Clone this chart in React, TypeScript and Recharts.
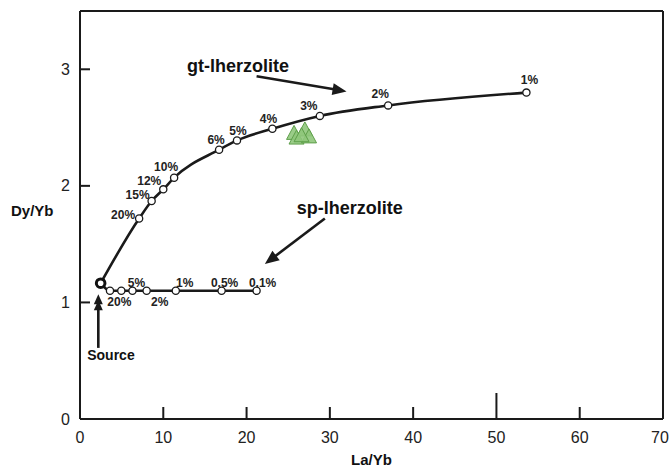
import React from 'react';
import {
  ComposedChart,
  Line,
  Scatter,
  XAxis,
  YAxis,
  ReferenceLine,
  ReferenceDot,
  LabelList,
} from 'recharts';

const FONT = '"Liberation Sans", Arial, Helvetica, sans-serif';
const INK = '#1a1a1a';

// axis ticks
const xTicks = [0, 10, 20, 30, 40, 50, 60, 70];
const yTicks = [0, 1, 2, 3];

// source composition
const sourceLaYb = 2.48;
const sourceDyYb = 1.165;

// garnet lherzolite melting curve
const gtLabels = ['20%', '15%', '12%', '10%', '6%', '5%', '4%', '3%', '2%', '1%'];
const gtLaYb = [7.1, 8.6, 10.0, 11.3, 16.7, 18.85, 23.1, 28.8, 37.0, 53.6];
const gtDyYb = [1.72, 1.87, 1.97, 2.07, 2.31, 2.39, 2.49, 2.6, 2.69, 2.8];

// spinel lherzolite melting curve
const spLabels = ['', '20%', '5%', '2%', '1%', '0.5%', '0.1%'];
const spLaYb = [3.6, 4.96, 6.3, 8.0, 11.5, 17.0, 21.2];
const spDyYb = [1.1, 1.1, 1.1, 1.1, 1.1, 1.1, 1.1];

// samples (green triangles)
const sampleLaYb = [25.7, 27.0, 26.0, 27.5, 26.6];
const sampleDyYb = [2.45, 2.48, 2.41, 2.42, 2.43];

// label offsets in px, relative to each point
const gtLabelOffset: Record<string, [number, number]> = {
  '20%': [-16, -4],
  '15%': [-14, -6],
  '12%': [-14, -9],
  '10%': [-8, -11],
  '6%': [-3, -10],
  '5%': [1, -10],
  '4%': [-4, -10],
  '3%': [-11, -10],
  '2%': [-8, -12],
  '1%': [3, -13],
};
const spLabelOffset: Record<string, [number, number]> = {
  '20%': [-2, 11],
  '5%': [4, -8],
  '2%': [13, 11],
  '1%': [9, -8],
  '0.5%': [3, -8],
  '0.1%': [6, -8],
};

const source = [{ x: sourceLaYb, y: sourceDyYb }];
const gtData = [
  { x: sourceLaYb, y: sourceDyYb, label: '' },
  ...gtLaYb.map((x, i) => ({ x, y: gtDyYb[i], label: gtLabels[i] })),
];
const spData = [
  { x: sourceLaYb, y: sourceDyYb, label: '' },
  ...spLaYb.map((x, i) => ({ x, y: spDyYb[i], label: spLabels[i] })),
];
const samples = sampleLaYb.map((x, i) => ({ x, y: sampleDyYb[i] }));

const XTick = (p: any) => {
  const v = p.payload.value;
  const axisY = p.y - 18;
  const len = v === 50 ? 26 : 12;
  // last label sits at the right edge of the page
  const tx = v === 70 ? p.x - 3 : p.x;
  return (
    <g>
      {v !== 0 && v !== 70 && (
        <line x1={p.x} x2={p.x} y1={axisY} y2={axisY - len} stroke={INK} strokeWidth={2} />
      )}
      <text x={tx} y={p.y} dy="0.35em" textAnchor="middle" fontSize={16} fontFamily={FONT} fill="#222">
        {v}
      </text>
    </g>
  );
};

const YTick = (p: any) => {
  const v = p.payload.value;
  const axisX = p.x + 10;
  return (
    <g>
      {v !== 0 && <line x1={axisX} x2={axisX + 10} y1={p.y} y2={p.y} stroke={INK} strokeWidth={2} />}
      <text x={p.x} y={p.y} dy="0.35em" textAnchor="end" fontSize={16} fontFamily={FONT} fill="#222">
        {v}
      </text>
    </g>
  );
};

const pointDot = (p: any) => {
  if (p.index === 0) return <g key={`d${p.index}`} />;
  return <circle key={`d${p.index}`} cx={p.cx} cy={p.cy} r={3.6} fill="#fff" stroke={INK} strokeWidth={1.3} />;
};

const pctLabel = (offsets: Record<string, [number, number]>) => (p: any) => {
  const off = offsets[p.value];
  if (!off) return null;
  return (
    <text
      x={p.x + off[0]}
      y={p.y + off[1]}
      dy="0.35em"
      textAnchor="middle"
      fontSize={12}
      fontWeight={700}
      fontFamily={FONT}
      fill="#222"
    >
      {p.value}
    </text>
  );
};

const arrowShape = (heads: number, headLen: number, headW: number) => (p: any) => {
  const { x1, y1, x2, y2 } = p;
  const ang = Math.atan2(y2 - y1, x2 - x1);
  const ux = Math.cos(ang);
  const uy = Math.sin(ang);
  const polys = [];
  for (let k = 0; k < heads; k++) {
    const tx = x2 - ux * k * headLen * 0.6;
    const ty = y2 - uy * k * headLen * 0.6;
    const bx = tx - ux * headLen;
    const by = ty - uy * headLen;
    polys.push(
      <polygon
        key={k}
        points={`${tx},${ty} ${bx - uy * headW},${by + ux * headW} ${bx + uy * headW},${by - ux * headW}`}
        fill={INK}
      />
    );
  }
  return (
    <g>
      <line x1={x1} y1={y1} x2={x2 - ux * headLen * 0.8} y2={y2 - uy * headLen * 0.8} stroke={INK} strokeWidth={2.6} />
      {polys}
    </g>
  );
};

const triangle = (p: any) => (
  <polygon
    points={`${p.cx},${p.cy - 8} ${p.cx - 7.5},${p.cy + 6} ${p.cx + 7.5},${p.cy + 6}`}
    fill="#8fc77b"
    fillOpacity={0.9}
    stroke="#5e9f4a"
    strokeWidth={1}
  />
);

const sourceDot = (p: any) => (
  <circle cx={p.cx} cy={p.cy} r={4.3} fill="#fff" stroke="#111" strokeWidth={3} />
);

const annotation = (value: string, size: number) => ({
  value,
  position: 'center' as const,
  fontSize: size,
  fontWeight: 700,
  fontFamily: FONT,
  fill: '#111',
});

export default function App() {
  return (
    <div style={{ position: 'absolute', left: 0, top: 0, width: 670, height: 467, background: '#fff' }}>
      <ComposedChart width={670} height={467} margin={{ top: 11, right: 7, bottom: 0, left: 0 }}>
        <XAxis
          type="number"
          dataKey="x"
          domain={[0, 70]}
          ticks={xTicks}
          interval={0}
          allowDataOverflow
          height={48}
          tickSize={0}
          tickMargin={18}
          tick={XTick}
          axisLine={{ stroke: INK, strokeWidth: 2 }}
          label={{ value: 'La/Yb', position: 'insideBottom', offset: 2, fontSize: 15, fontWeight: 700, fontFamily: FONT, fill: '#111' }}
        />
        <YAxis
          type="number"
          dataKey="y"
          domain={[0, 3.5]}
          ticks={yTicks}
          interval={0}
          allowDataOverflow
          width={80}
          tickSize={0}
          tickMargin={10}
          tick={YTick}
          axisLine={{ stroke: INK, strokeWidth: 2 }}
          label={{ value: 'Dy/Yb', position: 'insideLeft', offset: 11, dy: -4, fontSize: 15, fontWeight: 700, fontFamily: FONT, fill: '#111' }}
        />
        <ReferenceLine y={3.5} stroke={INK} strokeWidth={2} />
        <ReferenceLine x={70} stroke={INK} strokeWidth={2} />

        <Scatter data={samples} shape={triangle} isAnimationActive={false} />

        <Line
          data={gtData}
          dataKey="y"
          type="monotone"
          stroke={INK}
          strokeWidth={2.6}
          dot={pointDot}
          activeDot={false}
          isAnimationActive={false}
        >
          <LabelList dataKey="label" content={pctLabel(gtLabelOffset)} />
        </Line>
        <Line
          data={spData}
          dataKey="y"
          type="monotone"
          stroke={INK}
          strokeWidth={2.6}
          dot={pointDot}
          activeDot={false}
          isAnimationActive={false}
        >
          <LabelList dataKey="label" content={pctLabel(spLabelOffset)} />
        </Line>

        <Scatter data={source} shape={sourceDot} isAnimationActive={false} />

        <ReferenceLine
          segment={[{ x: 21.2, y: 2.94 }, { x: 32.0, y: 2.81 }]}
          ifOverflow="visible"
          shape={arrowShape(1, 14, 6)}
        />
        <ReferenceLine
          segment={[{ x: 29.4, y: 1.72 }, { x: 22.2, y: 1.33 }]}
          ifOverflow="visible"
          shape={arrowShape(1, 14, 6)}
        />
        <ReferenceLine
          segment={[{ x: 2.2, y: 0.61 }, { x: 2.2, y: 1.07 }]}
          ifOverflow="visible"
          shape={arrowShape(2, 10, 4.5)}
        />

        <ReferenceDot x={18.97} y={3.03} r={0} stroke="none" label={annotation('gt-lherzolite', 18)} />
        <ReferenceDot x={32.4} y={1.81} r={0} stroke="none" label={annotation('sp-lherzolite', 18)} />
        <ReferenceDot x={3.72} y={0.55} r={0} stroke="none" label={annotation('Source', 14)} />
      </ComposedChart>
    </div>
  );
}
